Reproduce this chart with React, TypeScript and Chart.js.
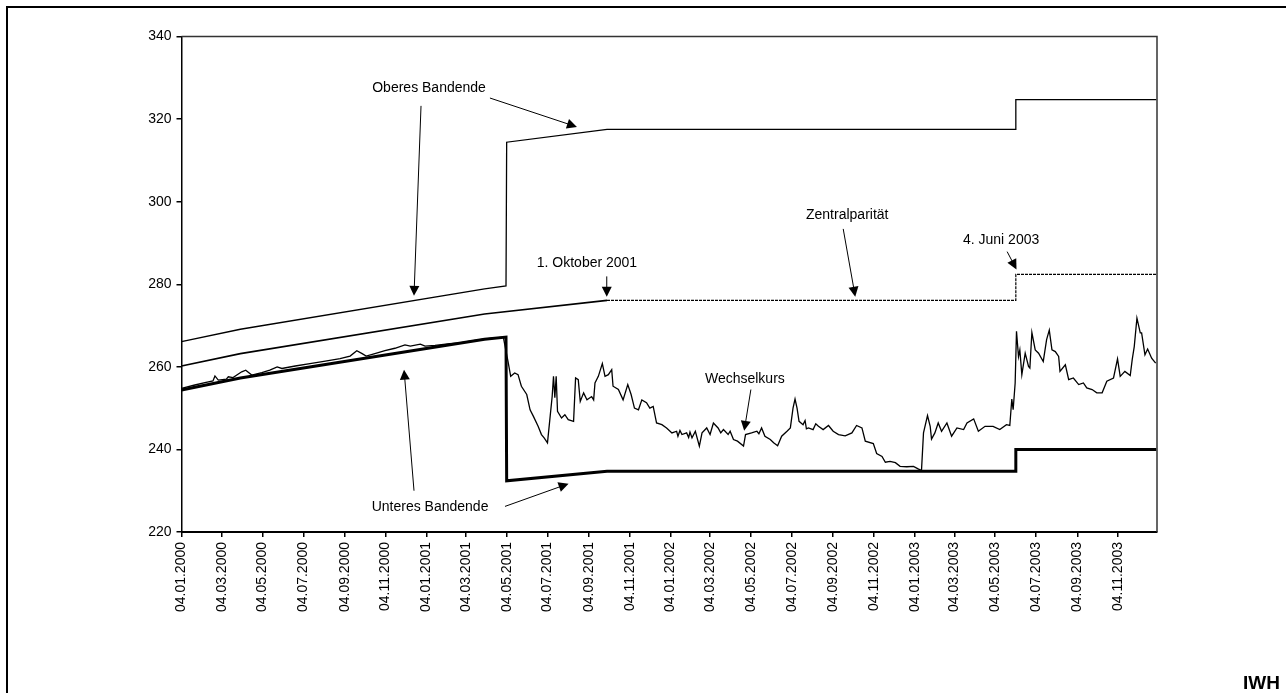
import React, { useEffect, useRef } from "react";
import { Chart, registerables } from "chart.js";

Chart.register(...registerables);

// ---------- data ----------
const tickLabels = [
  "04.01.2000", "04.03.2000", "04.05.2000", "04.07.2000", "04.09.2000", "04.11.2000",
  "04.01.2001", "04.03.2001", "04.05.2001", "04.07.2001", "04.09.2001", "04.11.2001",
  "04.01.2002", "04.03.2002", "04.05.2002", "04.07.2002", "04.09.2002", "04.11.2002",
  "04.01.2003", "04.03.2003", "04.05.2003", "04.07.2003", "04.09.2003", "04.11.2003",
];

const upperDates = ["04.01.2000", "01.04.2000", "01.04.2001", "03.05.2001", "04.05.2001", "01.10.2001", "03.06.2003", "04.06.2003", "31.12.2003"];
const upperValues = [266.1, 269.1, 278.9, 279.6, 314.4, 317.5, 317.5, 324.7, 324.7];

const centralDates = ["04.01.2000", "01.04.2000", "01.04.2001", "01.10.2001", "03.06.2003", "04.06.2003", "31.12.2003"];
const centralValues = [260.2, 263.2, 272.8, 276.1, 276.1, 282.4, 282.4];

const lowerDates = ["04.01.2000", "01.04.2000", "01.04.2001", "03.05.2001", "04.05.2001", "01.10.2001", "03.06.2003", "04.06.2003", "31.12.2003"];
const lowerValues = [254.4, 257.3, 266.7, 267.2, 232.4, 234.7, 234.7, 240.0, 240.0];

// exchange rate: days after 04.01.2000
const rateDays = [
  0, 20, 35, 47, 50, 55, 67, 70, 77, 90, 96, 105, 120, 132, 143, 150, 170, 192, 215, 237,
  252, 262, 270, 276, 289, 304, 319, 334, 342, 357, 364, 379, 401, 416, 431, 446, 461, 481,
  488, 492, 498, 503, 508, 516, 521, 526, 533, 538, 542, 547, 551, 554, 556, 558, 560, 562,
  568, 573, 578, 586, 589, 593, 596, 601, 606, 613, 616, 618, 623, 629, 633, 638, 643, 645,
  653, 660, 667, 672, 677, 683, 688, 695, 700, 705, 710, 718, 725, 733, 740, 742, 745, 748, 755,
  758, 760, 763,
  768, 774, 778, 785, 790, 795, 802, 806, 810, 817, 820, 825, 831, 840, 843, 852, 860, 863, 867, 872, 880,
  885, 891, 897, 905, 910, 914, 917, 920, 923, 929, 932, 934, 937, 944, 948, 952, 959, 967, 974, 982, 992,
  1002, 1009, 1017, 1022, 1034, 1039, 1047, 1052, 1059, 1067, 1074, 1084, 1094, 1101, 1106,
  1109, 1115, 1119, 1121, 1126, 1131, 1136, 1144, 1151, 1159, 1169, 1174, 1184, 1191, 1201,
  1213, 1223, 1233, 1238, 1241, 1243, 1246, 1248, 1251, 1253, 1256, 1261, 1266, 1268, 1271,
  1276, 1281, 1288, 1293, 1297, 1301, 1306, 1311, 1313, 1321, 1326, 1333, 1341, 1348, 1353,
  1361, 1368, 1376, 1383, 1393, 1399, 1403, 1410, 1418, 1421, 1424, 1428, 1433, 1435, 1440,
  1444, 1450, 1456,
];
const rateValues = [
  254.8, 255.6, 256.2, 256.6, 257.8, 256.8, 257.0, 257.6, 257.4, 258.8, 259.2, 258.0, 258.6, 259.2, 260.0, 259.6, 260.2, 260.8, 261.4, 262.0,
  262.6, 263.9, 263.2, 262.6, 263.2, 263.9, 264.5, 265.3, 265.0, 265.5, 265.0, 265.2, 265.6, 265.8, 266.2, 266.6, 266.9, 267.2,
  261.3, 257.7, 258.5, 258.1, 255.3, 253.3, 249.6, 248.0, 245.6, 243.6, 242.8, 241.6, 248.0, 252.8, 257.7, 252.5, 257.7, 249.2,
  247.6, 248.4, 247.2, 246.8, 257.3, 256.9, 251.6, 253.7, 252.0, 252.8, 252.0, 256.1, 257.7, 260.8, 257.7, 258.1, 259.3, 255.3,
  254.5, 252.0, 255.7, 253.3, 250.0, 249.6, 252.0, 251.3, 250.0, 250.4, 246.4, 246.0, 245.2, 244.0, 244.4, 243.2, 244.6, 243.6, 244.0,
  242.9, 244.2, 242.8,
  244.4, 240.8, 244.0, 245.2, 243.6, 246.4, 245.2, 244.0, 244.8, 243.6, 244.4, 242.4, 242.0, 240.8, 243.6, 244.0, 244.4, 243.8, 245.2, 243.2, 242.4,
  241.6, 240.9, 243.2, 244.4, 245.2, 250.0, 252.2, 250.0, 246.8, 246.0, 247.0, 245.0, 245.2, 244.8, 246.2, 245.6, 244.8, 245.8, 244.4, 243.6, 243.3,
  244.0, 245.8, 245.2, 242.0, 241.4, 239.0, 238.3, 236.9, 237.1, 236.8, 235.9, 235.8, 235.9, 235.3, 234.9,
  244.0, 248.2, 245.6, 242.5, 244.0, 246.4, 244.4, 246.4, 243.2, 245.2, 244.8, 246.4, 247.4, 244.4, 245.6,
  245.6, 244.8, 246.0, 245.8, 252.2, 249.6, 256.1, 268.6, 262.5, 264.1, 258.1, 263.3, 260.1, 259.7, 268.3,
  264.1, 263.3, 261.3, 266.6, 268.9, 264.1, 263.7, 262.5, 258.9, 260.5, 256.9, 257.3, 255.7, 256.1, 254.9,
  254.5, 253.7, 253.7, 256.5, 257.3, 261.9, 257.7, 258.9, 257.9, 261.8, 264.9, 271.8, 268.2, 268.2, 262.9,
  264.3, 262.1, 260.9,
];

// ---------- helpers ----------
const START = Date.UTC(2000, 0, 4);
function dayOf(s: string): number {
  const [d, m, y] = s.split(".").map(Number);
  return Math.round((Date.UTC(y, m - 1, d) - START) / 86400000);
}
const toPoints = (dates: string[], vals: number[]) => dates.map((d, i) => ({ x: dayOf(d), y: vals[i] }));

const FONT = "'Liberation Sans', Arial, Helvetica, sans-serif";

// annotation texts and arrows in data coordinates (day, value)
const noteTexts: { text: string; day: number; val: number }[] = [
  { text: "Oberes Bandende", day: 370, val: 327.5 },
  { text: "1. Oktober 2001", day: 606, val: 285.2 },
  { text: "Zentralparität", day: 995, val: 296.8 },
  { text: "4. Juni 2003", day: 1225, val: 290.8 },
  { text: "Wechselkurs", day: 842, val: 257.1 },
  { text: "Unteres Bandende", day: 371.5, val: 225.9 },
];
const noteArrows: number[][] = [
  [358, 323.2, 347.5, 277.2],
  [461, 325.1, 591, 318.1],
  [635.6, 281.9, 635.6, 277.0],
  [989, 293.4, 1007, 277.0],
  [1234, 287.9, 1248, 283.6],
  [851, 254.5, 841, 244.5],
  [347.5, 230.0, 332.6, 259.3],
  [483.5, 226.2, 578.5, 231.7],
];

function drawArrow(ctx: CanvasRenderingContext2D, x1: number, y1: number, x2: number, y2: number) {
  const ang = Math.atan2(y2 - y1, x2 - x1);
  const L = 10;
  const W = 5;
  const c = Math.cos(ang);
  const s = Math.sin(ang);
  ctx.beginPath();
  ctx.moveTo(x1, y1);
  ctx.lineTo(x2 - L * 0.8 * c, y2 - L * 0.8 * s);
  ctx.stroke();
  ctx.beginPath();
  ctx.moveTo(x2, y2);
  ctx.lineTo(x2 - L * c + W * s, y2 - L * s - W * c);
  ctx.lineTo(x2 - L * c - W * s, y2 - L * s + W * c);
  ctx.closePath();
  ctx.fill();
}

const decorPlugin = {
  id: "decor",
  afterDraw(chart: any) {
    const ctx: CanvasRenderingContext2D = chart.ctx;
    const { left, top, right, bottom } = chart.chartArea;
    const xs = chart.scales.x;
    const ys = chart.scales.y;
    ctx.save();
    // plot frame top/right
    ctx.strokeStyle = "#333";
    ctx.lineWidth = 1.5;
    ctx.beginPath();
    ctx.moveTo(left, top);
    ctx.lineTo(right, top);
    ctx.lineTo(right, bottom);
    ctx.stroke();
    // outer frame
    ctx.strokeStyle = "#000";
    ctx.lineWidth = 2;
    ctx.beginPath();
    ctx.moveTo(7, 2000);
    ctx.lineTo(7, 7);
    ctx.lineTo(2000, 7);
    ctx.stroke();
    // annotations
    ctx.fillStyle = "#000";
    ctx.strokeStyle = "#000";
    ctx.lineWidth = 1;
    ctx.font = `14px ${FONT}`;
    ctx.textAlign = "center";
    ctx.textBaseline = "middle";
    noteTexts.forEach((n) => {
      ctx.fillText(n.text, xs.getPixelForValue(n.day), ys.getPixelForValue(n.val));
    });
    noteArrows.forEach((a) => {
      drawArrow(
        ctx,
        xs.getPixelForValue(a[0]),
        ys.getPixelForValue(a[1]),
        xs.getPixelForValue(a[2]),
        ys.getPixelForValue(a[3])
      );
    });
    // IWH
    ctx.font = `bold 19px ${FONT}`;
    ctx.textAlign = "right";
    ctx.textBaseline = "alphabetic";
    ctx.fillText("IWH", 1280, 689);
    ctx.restore();
  },
};

export default function App() {
  const ref = useRef<HTMLCanvasElement | null>(null);

  useEffect(() => {
    if (!ref.current) return;
    Chart.defaults.font.family = FONT;
    Chart.defaults.font.size = 14;
    Chart.defaults.color = "#000";
    const tickDays = tickLabels.map(dayOf);
    const octDay = dayOf("01.10.2001");

    const chart = new Chart(ref.current, {
      type: "line",
      data: {
        datasets: [
          {
            label: "Oberes Bandende",
            data: toPoints(upperDates, upperValues),
            borderColor: "#000",
            borderWidth: 1.3,
            pointRadius: 0,
            tension: 0,
          },
          {
            label: "Zentralparität",
            data: toPoints(centralDates, centralValues),
            borderColor: "#000",
            borderWidth: 1.6,
            pointRadius: 0,
            tension: 0,
            segment: {
              borderDash: (ctx: any) => (ctx.p0.parsed.x >= octDay ? [3, 1] : undefined),
              borderWidth: (ctx: any) => (ctx.p0.parsed.x >= octDay ? 1.2 : 1.6),
            },
          },
          {
            label: "Unteres Bandende",
            data: toPoints(lowerDates, lowerValues),
            borderColor: "#000",
            borderWidth: 3,
            pointRadius: 0,
            tension: 0,
          },
          {
            label: "Wechselkurs",
            data: rateDays.map((d, i) => ({ x: d, y: rateValues[i] })),
            borderColor: "#000",
            borderWidth: 1.3,
            pointRadius: 0,
            tension: 0,
          },
        ],
      },
      options: {
        animation: false,
        responsive: false,
        devicePixelRatio: 1,
        layout: { padding: { left: 0, top: 36.5, right: 129, bottom: 0 } },
        plugins: {
          legend: { display: false },
          tooltip: { enabled: false },
        },
        scales: {
          x: {
            type: "linear",
            min: 0,
            max: 1458,
            afterBuildTicks: (scale: any) => {
              scale.ticks = tickDays.map((v) => ({ value: v }));
            },
            afterFit: (scale: any) => {
              scale.height = 161;
            },
            ticks: {
              autoSkip: false,
              maxRotation: 90,
              minRotation: 90,
              padding: 5,
              font: { size: 14 },
              color: "#000",
              callback: (_v: any, i: number) => tickLabels[i],
            },
            grid: {
              display: true,
              drawOnChartArea: false,
              drawTicks: true,
              tickLength: 5,
              color: "#000",
              lineWidth: 1.5,
            },
            border: { display: true, color: "#000", width: 2 },
          },
          y: {
            min: 220,
            max: 340,
            afterFit: (scale: any) => {
              scale.width = 181.5;
            },
            ticks: {
              stepSize: 20,
              padding: 5,
              font: { size: 14 },
              color: "#000",
            },
            grid: {
              display: true,
              drawOnChartArea: false,
              drawTicks: true,
              tickLength: 5,
              color: "#000",
              lineWidth: 1.5,
            },
            border: { display: true, color: "#000", width: 1.5 },
          },
        },
      },
      plugins: [decorPlugin],
    });
    return () => chart.destroy();
  }, []);

  return (
    <div style={{ position: "fixed", left: 0, top: 0, width: 1286, height: 693, overflow: "hidden", background: "#fff" }}>
      <canvas ref={ref} width={1286} height={693} style={{ width: 1286, height: 693, display: "block" }} />
    </div>
  );
}
